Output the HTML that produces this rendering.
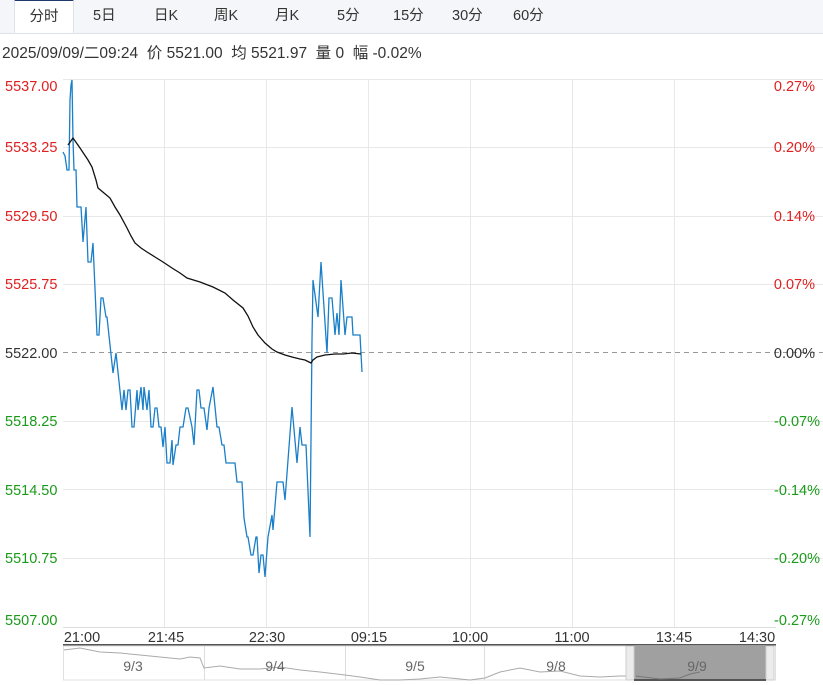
<!DOCTYPE html>
<html><head><meta charset="utf-8"><style>
body{margin:0;width:823px;height:685px;background:#fff;overflow:hidden;font-family:"Liberation Sans","Noto Sans CJK SC",sans-serif;}
.tabs{position:absolute;left:0;top:0;width:823px;height:33px;background:#f4f6f9;border-bottom:1px solid #dde3ea;}
.tab{position:absolute;top:0;height:33px;line-height:33px;font-size:14.5px;color:#333;}
.act{background:#fff;border-top:2px solid #1e3a6e;height:32px;top:-1px;left:14px;width:58px;text-align:center;border-right:1px solid #dde3ea;border-left:1px solid #dde3ea}
.info{position:absolute;left:2px;top:41px;font-size:15.5px;color:#333;white-space:nowrap}
</style></head><body>
<div class="tabs">
<div class="tab act">分时</div>
<div class="tab" style="left:93px">5日</div>
<div class="tab" style="left:154px">日K</div>
<div class="tab" style="left:214px">周K</div>
<div class="tab" style="left:275px">月K</div>
<div class="tab" style="left:337px">5分</div>
<div class="tab" style="left:393px">15分</div>
<div class="tab" style="left:452px">30分</div>
<div class="tab" style="left:513px">60分</div>
</div>
<div class="info">2025/09/09/二09:24&nbsp; 价 5521.00&nbsp; 均 5521.97&nbsp; 量 0&nbsp; 幅 -0.02%</div>
<svg width="823" height="685" style="position:absolute;left:0;top:0" font-family="Liberation Sans, sans-serif" font-size="14.5">
<g stroke="#e8e8e8" stroke-width="1">
<line x1="63" y1="79.5" x2="823" y2="79.5"/><line x1="63" y1="147.5" x2="823" y2="147.5"/><line x1="63" y1="216.5" x2="823" y2="216.5"/><line x1="63" y1="284.5" x2="823" y2="284.5"/><line x1="63" y1="421.5" x2="823" y2="421.5"/><line x1="63" y1="489.5" x2="823" y2="489.5"/><line x1="63" y1="558.5" x2="823" y2="558.5"/>
<line x1="164.5" y1="79" x2="164.5" y2="627"/><line x1="266.5" y1="79" x2="266.5" y2="627"/><line x1="368.5" y1="79" x2="368.5" y2="627"/><line x1="470.5" y1="79" x2="470.5" y2="627"/><line x1="572.5" y1="79" x2="572.5" y2="627"/><line x1="674.5" y1="79" x2="674.5" y2="627"/>
</g>
<line x1="63" y1="627.5" x2="776" y2="627.5" stroke="#ddd"/>
<line x1="63" y1="352.5" x2="823" y2="352.5" stroke="#999" stroke-dasharray="5,4"/>
<g fill="#e02020"><text x="5" y="91">5537.00</text><text x="5" y="152">5533.25</text><text x="5" y="221">5529.50</text><text x="5" y="289">5525.75</text></g>
<text x="5" y="358" fill="#333">5522.00</text>
<g fill="#1a9a1a"><text x="5" y="426">5518.25</text><text x="5" y="495">5514.50</text><text x="5" y="563">5510.75</text><text x="5" y="625">5507.00</text></g>
<g fill="#e02020" text-anchor="end"><text x="815" y="91">0.27%</text><text x="815" y="152">0.20%</text><text x="815" y="221">0.14%</text><text x="815" y="289">0.07%</text></g>
<text x="815" y="358" fill="#333" text-anchor="end">0.00%</text>
<g fill="#1a9a1a" text-anchor="end"><text x="820" y="426">-0.07%</text><text x="820" y="495">-0.14%</text><text x="820" y="563">-0.20%</text><text x="820" y="625">-0.27%</text></g>
<g fill="#333" font-size="14.5" text-anchor="middle"><text x="82" y="642">21:00</text><text x="166" y="642">21:45</text><text x="267" y="642">22:30</text><text x="369" y="642">09:15</text><text x="470" y="642">10:00</text><text x="572" y="642">11:00</text><text x="674" y="642">13:45</text><text x="757" y="642">14:30</text></g>
<polyline fill="none" stroke="#1a7fc8" stroke-width="1.3" points="63,152 65,156 67,170 69,170 70,100 71,85 72,80 73,140 74,170 76,170 77,207 79,207 81,207 83,242 86,207 88,262 91,262 93,243 97,335 99,335 101,298 103,298 106,317 107,317 113,373 116,353 122,410 124,390 126,410 128,390 130,390 132,427 134,427 137,390 138,410 141,387 143,410 144,387 147,410 149,390 151,427 153,427 155,408 157,408 159,427 161,427 163,447 165,427 167,463 170,463 172,440 173,465 176,445 178,445 180,427 183,427 186,408 188,408 192,427 194,445 197,390 199,390 201,408 204,408 207,430 209,408 213,387 217,427 219,427 222,445 224,445 226,463 235,463 237,482 242,482 244,518 247,537 248,537 251,555 253,555 256,537 257,537 259,573 261,555 263,555 265,577 268,537 272,515 273,530 277,482 283,482 285,500 292,407 297,463 300,427 302,445 306,445 310,537 312,340 313,280 318,317 321,262 327,353 329,298 332,298 335,335 337,313 339,335 341,280 345,335 347,317 352,317 353,335 358,335 360,335 362,372"/>
<polyline fill="none" stroke="#111" stroke-width="1.3" points="68,145 73,138 80,148 88,160 92,167 96,180 98,188 104,193 110,198 115,207 120,215 127,228 131,236 135,243 141,248 147,252 155,257 163,262 172,268 180,273 187,278 200,282 213,287 225,293 233,300 243,308 248,316 253,327 258,335 265,343 272,349 277,352 285,355 292,357 300,359 305,360 311,363 313,360 317,357 325,355 335,354 343,354 352,353 361,354"/>
<line x1="63" y1="645" x2="776" y2="645" stroke="#555" stroke-width="2"/>
<rect x="63.5" y="646" width="712" height="34" fill="none" stroke="#e0e0e0"/>
<g stroke="#ddd"><line x1="204.5" y1="646" x2="204.5" y2="680"/><line x1="345.5" y1="646" x2="345.5" y2="680"/><line x1="484.5" y1="646" x2="484.5" y2="680"/></g>
<polyline fill="none" stroke="#aaa" stroke-width="1" points="64,650 80,648 100,652 120,653 140,655 160,657 180,659 190,657 200,658 204,668 220,666 240,669 260,669 280,667 300,670 320,672 345,675 360,677 380,680 400,680 420,679 440,677 470,680 485,678 500,672 520,668 540,672 560,671 580,676 600,677 620,676 626,676"/>
<rect x="634" y="646" width="132" height="34" fill="#a0a0a0"/>
<rect x="626" y="646" width="8" height="34" fill="#ececec" stroke="#ccc"/>
<rect x="766" y="646" width="8" height="34" fill="#ececec" stroke="#ccc"/>
<line x1="634" y1="680" x2="766" y2="680" stroke="#555" stroke-width="2"/>
<polyline fill="none" stroke="#777" points="636,676 660,679 680,678 690,674 700,672"/>
<g fill="#666" font-size="14" text-anchor="middle"><text x="133" y="671">9/3</text><text x="275" y="671">9/4</text><text x="415" y="671">9/5</text><text x="556" y="671">9/8</text><text x="697" y="671">9/9</text></g>
</svg>
</body></html>
